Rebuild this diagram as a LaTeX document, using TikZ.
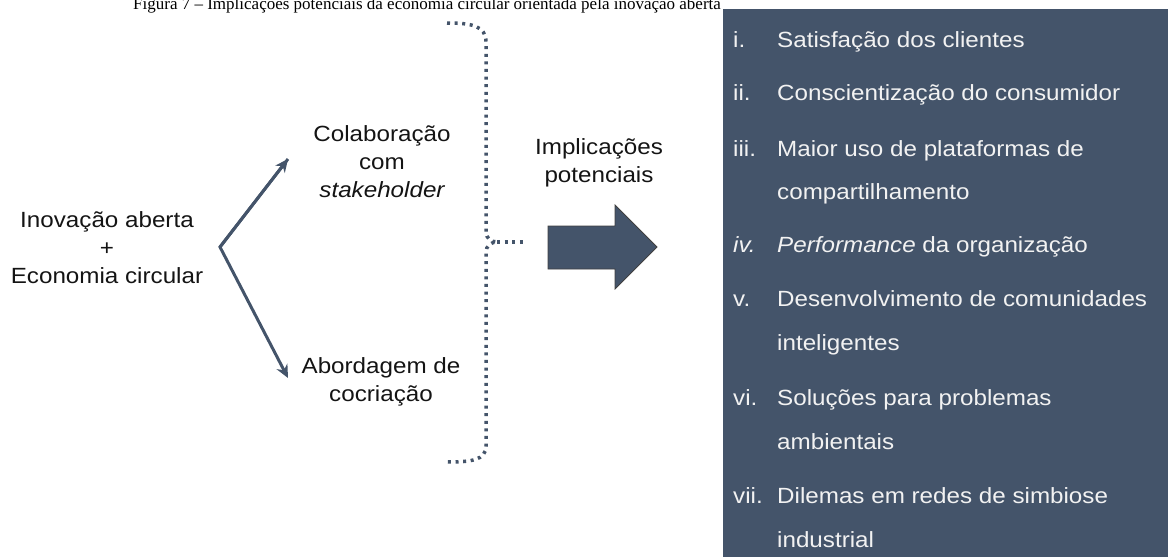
\documentclass[tikz,border=0pt]{standalone}
\usepackage{fontspec}
\setmainfont[FakeStretch=1.1]{Liberation Sans}
\newfontfamily\titlefont[Ligatures=TeX]{Liberation Serif}
\usetikzlibrary{arrows.meta}
\definecolor{slate}{RGB}{68,84,106}
\definecolor{txtdark}{RGB}{20,20,20}
\definecolor{txtlight}{RGB}{242,242,242}
\tikzset{
  lbl/.style={anchor=base, inner sep=0pt, text=txtdark, font=\fontsize{22}{26}\selectfont},
  itemnum/.style={anchor=base west, inner sep=0pt, text=txtlight, font=\fontsize{22}{26}\selectfont},
  itemtxt/.style={anchor=base west, inner sep=0pt, text=txtlight, font=\fontsize{22}{26}\selectfont},
  forkarrow/.style={draw=slate, line width=3pt, -{Stealth[length=13pt,width=12pt]}},
  dotline/.style={draw=slate, line width=3.5pt, dash pattern=on 3pt off 4.6pt},
}
\begin{document}
\begin{tikzpicture}[x=1pt,y=-1pt]
\path[use as bounding box] (0,0) rectangle (1168,557);
\clip (0,0) rectangle (1168,557);
% title (cut at top, as in the reference)
\node[anchor=base west, inner sep=0pt, font=\titlefont\fontsize{17}{19}\selectfont] (title) at (133,9.5)
  {Figura 7 – Implicações potenciais da economia circular orientada pela inovação aberta};
% right box
\fill[slate] (723,9) rectangle (1170,560);
% left block
\node[lbl] (in1) at (107,227) {Inovação aberta};
\node[lbl] (in2) at (107,255) {+};
\node[lbl] (in3) at (107,283) {Economia circular};
\node[lbl] (co1) at (382,141) {Colaboração};
\node[lbl] (co2) at (382,169) {com};
\node[lbl] (co3) at (382,197) {\itshape stakeholder};
\node[lbl] (ab1) at (381,373) {Abordagem de};
\node[lbl] (ab2) at (381,401) {cocriação};
\node[lbl] (im1) at (599,154) {Implicações};
\node[lbl] (im2) at (599,182) {potenciais};
% fork arrows
\coordinate (fork) at (220,247);
\coordinate (tipA) at (288,159);
\coordinate (tipB) at (288,378);
\draw[forkarrow, line join=miter] (tipA) -- (fork) -- (tipB);
\draw[forkarrow] (fork) -- (tipA);
% dotted brace
\coordinate (bt) at (447,23);
\coordinate (bb) at (447,462);
\coordinate (bm) at (497,242);
\coordinate (be) at (525,242);
\draw[dotline] (bt) .. controls (472,23) and (486,26) .. (486,42) -- (486,232)
  .. controls (486,238) and (491,242) .. (bm)
  .. controls (491,242) and (486,246) .. (486,252) -- (486,446)
  .. controls (486,460) and (472,462) .. (bb);
\draw[dotline] (bm) -- (be);
% block arrow
\draw[fill=slate, draw=black!75, line width=0.8pt, line join=miter]
  (548,226) -- (615,226) -- (615,205) -- (657,247) -- (615,289) -- (615,269) -- (548,269) -- cycle;
% list
\node[itemnum] (n1) at (733,47) {i.};
\node[itemtxt] (t1) at (777,47) {Satisfação dos clientes};
\node[itemnum] (n2) at (733,100) {ii.};
\node[itemtxt] (t2) at (777,100) {Conscientização do consumidor};
\node[itemnum] (n3) at (733,156) {iii.};
\node[itemtxt] (t3) at (777,156) {Maior uso de plataformas de};
\node[itemtxt] (t3b) at (777,199) {compartilhamento};
\node[itemnum] (n4) at (733,252) {\itshape iv.};
\node[itemtxt] (t4) at (777,252) {\textit{Performance} da organização};
\node[itemnum] (n5) at (733,306) {v.};
\node[itemtxt] (t5) at (777,306) {Desenvolvimento de comunidades};
\node[itemtxt] (t5b) at (777,350) {inteligentes};
\node[itemnum] (n6) at (733,405) {vi.};
\node[itemtxt] (t6) at (777,405) {Soluções para problemas};
\node[itemtxt] (t6b) at (777,449) {ambientais};
\node[itemnum] (n7) at (733,503) {vii.};
\node[itemtxt] (t7) at (777,503) {Dilemas em redes de simbiose};
\node[itemtxt] (t7b) at (777,547) {industrial};
\end{tikzpicture}
\end{document}
